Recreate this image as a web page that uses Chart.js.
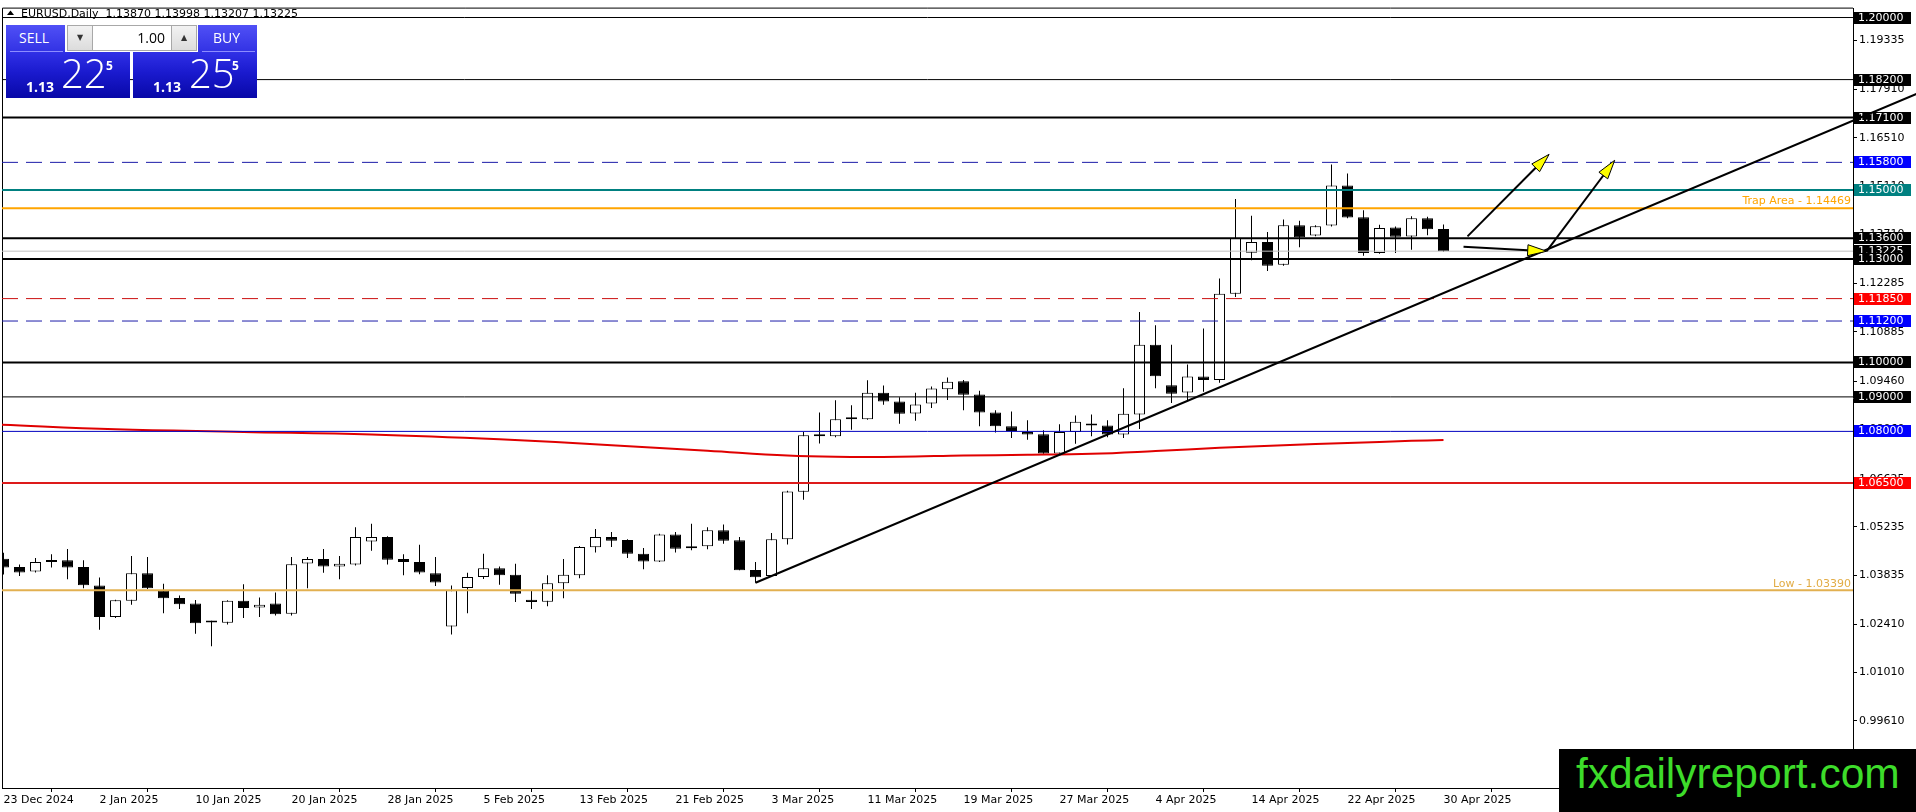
<!DOCTYPE html>
<html>
<head>
<meta charset="utf-8">
<script src="https://cdn.jsdelivr.net/npm/chart.js@4.4.1/dist/chart.umd.min.js"></script>
<style>
html,body{margin:0;padding:0;background:#fff;overflow:hidden;}
#wrap{position:relative;width:1916px;height:812px;}
#c{position:absolute;left:0;top:0;}
.a{position:absolute;box-sizing:border-box;white-space:nowrap;}
.btn{background:linear-gradient(#5050f6,#3232e4);color:#fff;font:14px "Open Sans",sans-serif;line-height:26px;}
.spin{background:linear-gradient(#f2f2f2,#dcdcdc);border:1px solid #a8a8a8;color:#333;font:8px "DejaVu Sans";text-align:center;line-height:24px;}
.pbox{background:linear-gradient(#3030e6 0%,#1a1ace 45%,#0808a8 100%);}
.small{font:bold 14px "Open Sans",sans-serif;color:#fff;line-height:1;}
.big{font:300 40px "Open Sans",sans-serif;color:#fff;line-height:1;}
.sup{font:bold 12px "Open Sans",sans-serif;color:#fff;line-height:1;}
</style>
</head>
<body>
<div id="wrap">
<canvas id="c" width="1916" height="812"></canvas>

<div class="a btn" style="left:6px;top:25px;width:59px;height:27px;padding-left:13px;">SELL</div>
<div class="a" style="left:10px;top:51px;width:53px;height:1px;background:#8c8cff;"></div>
<div class="a" style="left:67px;top:25px;width:130px;height:26px;background:#fff;border:1px solid #a8a8a8;"></div>
<div class="a spin" style="left:67px;top:25px;width:26px;height:26px;">&#9660;</div>
<div class="a" style="left:93px;top:25px;width:78px;height:26px;font:14px 'Open Sans',sans-serif;line-height:26px;text-align:right;padding-right:6px;color:#000;">1.00</div>
<div class="a spin" style="left:171px;top:25px;width:26px;height:26px;">&#9650;</div>
<div class="a btn" style="left:198px;top:25px;width:59px;height:27px;padding-left:15px;">BUY</div>
<div class="a" style="left:202px;top:51px;width:53px;height:1px;background:#8c8cff;"></div>

<div class="a pbox" style="left:6px;top:52px;width:124px;height:46px;"></div>
<div class="a pbox" style="left:133px;top:52px;width:124px;height:46px;"></div>
<div class="a small" style="left:26px;top:80px;">1.13</div>
<div class="a big" style="left:61px;top:53px;">22</div>
<div class="a sup" style="left:106px;top:60px;">5</div>
<div class="a small" style="left:153px;top:80px;">1.13</div>
<div class="a big" style="left:189px;top:53px;">25</div>
<div class="a sup" style="left:232px;top:60px;">5</div>

<div class="a" style="left:1559px;top:749px;width:357px;height:63px;background:#000;overflow:hidden;">
  <span id="wmt" class="a" style="left:17px;top:4px;font:42px 'Liberation Sans',Arial,sans-serif;color:#3ddc2a;line-height:1;transform-origin:0 0;">fxdailyreport.com</span>
</div>
</div>

<script>
// ---------------- DATA ----------------
const dateLabels = ['23 Dec 2024','2 Jan 2025','10 Jan 2025','20 Jan 2025','28 Jan 2025','5 Feb 2025','13 Feb 2025','21 Feb 2025','3 Mar 2025','11 Mar 2025','19 Mar 2025','27 Mar 2025','4 Apr 2025','14 Apr 2025','22 Apr 2025','30 Apr 2025'];
const dateBars = [0,6,12,18,24,30,36,42,48,54,60,66,72,78,84,90];

const opens  = [1.0431,1.0407,1.0394,1.0421,1.0426,1.0407,1.0353,1.0262,1.0309,1.0389,
                1.0338,1.0317,1.0301,1.0247,1.0245,1.0309,1.0289,1.0301,1.0271,1.0417,
                1.0430,1.0408,1.0414,1.0481,1.0494,1.0430,1.0421,1.0389,1.0234,1.0346,
                1.0378,1.0403,1.0384,1.0312,1.0306,1.0360,1.0383,1.0464,1.0494,1.0485,
                1.0445,1.0423,1.0501,1.0461,1.0467,1.0513,1.0484,1.0398,1.0381,1.0487,
                1.0625,1.0786,1.0786,1.0841,1.0835,1.0912,1.0887,1.0852,1.0881,1.0922,
                1.0945,1.0907,1.0855,1.0815,1.0798,1.0792,1.0736,1.0798,1.0823,1.0817,
                1.0791,1.0849,1.1051,1.0934,1.0913,1.0959,1.0949,1.1199,1.1318,1.1349,
                1.1283,1.1398,1.1368,1.1397,1.1513,1.1421,1.1317,1.1391,1.1365,1.1418,
                1.13870];
const highs  = [1.0448,1.0414,1.0433,1.0444,1.0459,1.0426,1.0376,1.0312,1.0439,1.0436,
                1.0358,1.0324,1.0311,1.0251,1.0310,1.0357,1.0318,1.0333,1.0436,1.0436,
                1.0459,1.0439,1.0522,1.0532,1.0496,1.0444,1.0471,1.0436,1.0353,1.0390,
                1.0445,1.0408,1.0416,1.0337,1.0383,1.0430,1.0468,1.0517,1.0508,1.0487,
                1.0462,1.0503,1.0508,1.0532,1.0522,1.0530,1.0494,1.0421,1.0505,1.0628,
                1.0798,1.0855,1.0890,1.0876,1.0948,1.0933,1.0899,1.0912,1.0930,1.0956,
                1.0949,1.0918,1.0861,1.0858,1.0832,1.0803,1.0821,1.0846,1.0849,1.0832,
                1.0925,1.1146,1.1108,1.1051,1.0994,1.1098,1.1243,1.1474,1.1425,1.1378,
                1.1414,1.1411,1.1398,1.1574,1.1548,1.1441,1.1399,1.1394,1.1424,1.1422,
                1.13998];
const lows   = [1.0385,1.0381,1.0391,1.0405,1.0371,1.0345,1.0225,1.0259,1.0297,1.0343,
                1.0273,1.0285,1.0213,1.0177,1.0240,1.0259,1.0262,1.0266,1.0266,1.0345,
                1.0390,1.0371,1.0411,1.0454,1.0414,1.0383,1.0386,1.0352,1.0211,1.0273,
                1.0372,1.0355,1.0305,1.0285,1.0293,1.0316,1.0374,1.0449,1.0465,1.0433,
                1.0400,1.0421,1.0449,1.0455,1.0458,1.0474,1.0397,1.0361,1.0379,1.0472,
                1.0602,1.0765,1.0783,1.0805,1.0834,1.0877,1.0822,1.0831,1.0868,1.0891,
                1.0861,1.0815,1.0797,1.0781,1.0776,1.0735,1.0735,1.0764,1.0786,1.0783,
                1.0781,1.0807,1.0925,1.0882,1.0890,1.0915,1.0941,1.1190,1.1296,1.1265,
                1.1280,1.1334,1.1366,1.1394,1.1418,1.1309,1.1315,1.1317,1.1327,1.1369,
                1.13207];
const closes = [1.0405,1.0391,1.0421,1.0426,1.0405,1.0354,1.0262,1.0310,1.0389,1.0345,
                1.0316,1.0299,1.0244,1.0246,1.0309,1.0288,1.0297,1.0270,1.0415,1.0430,
                1.0408,1.0416,1.0494,1.0494,1.0428,1.0421,1.0391,1.0362,1.0339,1.0378,
                1.0403,1.0383,1.0329,1.0305,1.0360,1.0384,1.0465,1.0494,1.0483,1.0445,
                1.0423,1.0501,1.0460,1.0467,1.0513,1.0483,1.0397,1.0377,1.0487,1.0626,
                1.0789,1.0790,1.0835,1.0835,1.0912,1.0887,1.0851,1.0878,1.0924,1.0944,
                1.0906,1.0855,1.0815,1.0801,1.0791,1.0736,1.0798,1.0828,1.0817,1.0791,
                1.0851,1.1051,1.0960,1.0909,1.0959,1.0949,1.1199,1.1361,1.1349,1.1280,
                1.1398,1.1363,1.1395,1.1513,1.1420,1.1317,1.1390,1.1364,1.1418,1.1386,
                1.13225];

// moving average (red curve) read at a number of bars
const maBars   = [-0.2, 7, 15, 23, 31, 38, 44, 49, 52, 56, 60, 64, 68, 72, 76, 80, 84, 88, 90];
const maValues = [1.08195,1.08060,1.07985,1.07910,1.07770,1.07600,1.07440,1.07301,1.07264,1.07264,
                  1.07301,1.07320,1.07350,1.07430,1.07523,1.07600,1.07665,1.07725,1.07752];

// trend line
const trendBars   = [47, 119.6];
const trendPrices = [1.03612, 1.17791];

// arrows
const arrowFromBars   = [91.5, 96.45, 91.25];
const arrowFromPrices = [1.13655, 1.13224, 1.13350];
const arrowToBars     = [96.6, 100.7, 96.45];
const arrowToPrices   = [1.16033, 1.15860, 1.13224];

// price axis ticks
const yTickValues = [1.19335,1.17910,1.16510,1.15110,1.13710,1.12285,1.10885,1.09460,1.08060,1.06625,1.05235,1.03835,1.02410,1.01010,0.99610];

// horizontal levels
const levelValues = [1.20000,1.18200,1.17100,1.15800,1.15000,1.14469,1.13600,1.13225,1.13000,1.11850,1.11200,1.10000,1.09000,1.08000,1.06500,1.03390];
const trapValue = 1.14469;
const lowValue  = 1.03390;

// ---------------- STYLES ----------------
const levelLook = [
  {c:'#000000', w:1}, {c:'#000000', w:1}, {c:'#000000', w:2}, {c:'#1c1ca8', w:1, d:[16,8]},
  {c:'#008080', w:2}, {c:'#ffa500', w:2}, {c:'#000000', w:2}, {c:'#c0c0c0', w:1},
  {c:'#000000', w:2}, {c:'#cc1111', w:1, d:[16,8]}, {c:'#1c1ca8', w:1, d:[16,8]}, {c:'#000000', w:2},
  {c:'#000000', w:1}, {c:'#0000c0', w:1}, {c:'#dd1a1a', w:2}, {c:'#e2b050', w:2}
];
const levelTag = ['#000','#000','#000','#0000ff','#008080',null,'#000','#000','#000','#ff0000','#0000ff','#000','#000','#0000ff','#ff0000',null];

const X_MIN = -0.09375, X_MAX = 115.59375;
const Y_MAX = 1.202588, Y_MIN = 0.976596;
const FONT = '"DejaVu Sans", sans-serif';

// ---------------- DATASETS ----------------
const wickData = lows.map((l, i) => ({x: i, y: [l, highs[i]]}));
const bodyData = opens.map((o, i) => ({x: i, y: [o, closes[i]]}));
const bodyFill = opens.map((o, i) => closes[i] >= o ? '#ffffff' : '#000000');

const datasets = [];
datasets.push({
  type: 'bar', data: wickData, order: 10, grouped: false, barThickness: 1,
  backgroundColor: '#000', borderWidth: 0, inflateAmount: 0, minBarLength: 1
});
datasets.push({
  type: 'bar', data: bodyData, order: 9, grouped: false, barThickness: 11,
  backgroundColor: bodyFill, borderColor: '#000', borderWidth: 1, borderSkipped: false,
  inflateAmount: 0, minBarLength: 2
});
datasets.push({
  type: 'line', data: maBars.map((b, i) => ({x: b, y: maValues[i]})), order: 8,
  borderColor: '#e00000', borderWidth: 2, pointRadius: 0, tension: 0.4, fill: false
});
levelValues.forEach((v, i) => {
  const lk = levelLook[i];
  datasets.push({
    type: 'line', data: [{x: X_MIN, y: v}, {x: X_MAX, y: v}], order: 5,
    borderColor: lk.c, borderWidth: lk.w, borderDash: lk.d || [], pointRadius: 0, fill: false
  });
});
datasets.push({
  type: 'line', data: trendBars.map((b, i) => ({x: b, y: trendPrices[i]})), order: 1,
  borderColor: '#000', borderWidth: 2, pointRadius: 0, fill: false, clip: false
});

// ---------------- PLUGIN ----------------
const overlay = {
  id: 'overlay',
  beforeDatasetsDraw(chart) {
    const {ctx, chartArea: a, scales: {x, y}} = chart;
    ctx.save();
    // frame
    ctx.strokeStyle = '#000'; ctx.lineWidth = 1;
    ctx.beginPath();
    ctx.moveTo(a.left + 0.5, a.bottom); ctx.lineTo(a.left + 0.5, a.top - 0.5);
    ctx.lineTo(a.right, a.top - 0.5);
    ctx.stroke();
    // title
    ctx.fillStyle = '#000';
    ctx.beginPath(); ctx.moveTo(7, 15); ctx.lineTo(10.5, 10.5); ctx.lineTo(14, 15); ctx.closePath(); ctx.fill();
    ctx.font = '11px ' + FONT; ctx.textBaseline = 'alphabetic'; ctx.textAlign = 'left';
    ctx.fillText('EURUSD,Daily  ' + [opens[90], highs[90], lows[90], closes[90]].map(v => v.toFixed(5)).join(' '), 21, 17);
    // price tags on the axis
    ctx.textBaseline = 'middle';
    levelValues.forEach((v, i) => {
      if (!levelTag[i]) return;
      const py = y.getPixelForValue(v);
      ctx.fillStyle = levelTag[i];
      ctx.fillRect(a.right + 1, Math.round(py) - 6, 57, 12);
      ctx.fillStyle = '#fff';
      ctx.fillText(v.toFixed(5), a.right + 5, Math.round(py) + 0.5);
    });
    // text labels on lines
    ctx.textAlign = 'right'; ctx.textBaseline = 'alphabetic';
    ctx.fillStyle = '#ffa500';
    ctx.fillText('Trap Area - ' + trapValue.toFixed(5), a.right - 2, y.getPixelForValue(trapValue) - 4);
    ctx.fillStyle = '#e2ac45';
    ctx.fillText('Low - ' + lowValue.toFixed(5), a.right - 2, y.getPixelForValue(lowValue) - 3);
    ctx.restore();
  },
  afterDatasetsDraw(chart) {
    const {ctx, scales: {x, y}} = chart;
    ctx.save();
    arrowFromBars.forEach((b, i) => {
      const x0 = x.getPixelForValue(b), y0 = y.getPixelForValue(arrowFromPrices[i]);
      const x1 = x.getPixelForValue(arrowToBars[i]), y1 = y.getPixelForValue(arrowToPrices[i]);
      const ang = Math.atan2(y1 - y0, x1 - x0);
      const L = 19, W = 5.5;
      const bx = x1 - L * Math.cos(ang), by = y1 - L * Math.sin(ang);
      ctx.strokeStyle = '#000'; ctx.lineWidth = 2;
      ctx.beginPath(); ctx.moveTo(x0, y0); ctx.lineTo(bx, by); ctx.stroke();
      ctx.beginPath();
      ctx.moveTo(x1, y1);
      ctx.lineTo(bx + W * Math.sin(ang), by - W * Math.cos(ang));
      ctx.lineTo(bx - W * Math.sin(ang), by + W * Math.cos(ang));
      ctx.closePath();
      ctx.fillStyle = '#ffff00'; ctx.fill();
      ctx.lineWidth = 1; ctx.strokeStyle = '#000'; ctx.stroke();
    });
    ctx.restore();
  }
};

// ---------------- CHART ----------------
new Chart(document.getElementById('c'), {
  type: 'bar',
  data: {datasets},
  plugins: [overlay],
  options: {
    responsive: false, animation: false, devicePixelRatio: 1, events: [],
    layout: {padding: {left: 2, top: 2, right: 0, bottom: 0}},
    plugins: {legend: {display: false}, tooltip: {enabled: false}},
    scales: {
      x: {
        type: 'linear', min: X_MIN, max: X_MAX, offset: false,
        afterBuildTicks: s => { s.ticks = dateBars.map(v => ({value: v})); },
        afterFit: s => { s.height = 24; },
        grid: {display: true, drawOnChartArea: false, drawTicks: true, tickLength: 4, color: '#000'},
        border: {display: true, color: '#000', width: 1},
        ticks: {align: 'start', maxRotation: 0, minRotation: 0, autoSkip: false, padding: 2, color: '#000',
                font: {family: FONT, size: 11}, callback: (v, i) => dateLabels[i]}
      },
      y: {
        type: 'linear', position: 'right', min: Y_MIN, max: Y_MAX,
        afterBuildTicks: s => { s.ticks = yTickValues.map(v => ({value: v})); },
        afterFit: s => { s.width = 63; },
        grid: {display: true, drawOnChartArea: false, drawTicks: true, tickLength: 4, color: '#000'},
        border: {display: true, color: '#000', width: 1},
        ticks: {padding: 2, autoSkip: false, color: '#000', font: {family: FONT, size: 11},
                callback: v => Number(v).toFixed(5)}
      }
    }
  }
});

// watermark width fit
const wm = document.getElementById('wmt');
wm.style.transform = 'scaleX(' + (324 / wm.offsetWidth) + ')';
</script>
</body>
</html>
